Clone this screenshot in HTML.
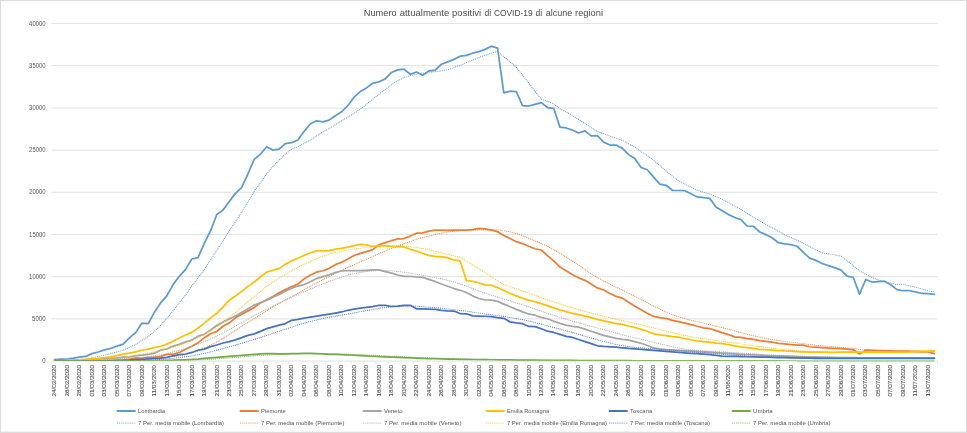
<!DOCTYPE html><html><head><meta charset="utf-8"><title>chart</title><style>html,body{margin:0;padding:0;background:#fff}body{width:967px;height:433px;overflow:hidden}svg{display:block}text{font-family:"Liberation Sans",sans-serif}</style></head><body>
<svg width="967" height="433" viewBox="0 0 967 433">
<rect x="0" y="0" width="967" height="433" fill="#fff"/>
<rect x="0.5" y="0.5" width="966" height="432" fill="none" stroke="#dcdcdc" stroke-width="1"/><rect x="0" y="431.7" width="967" height="1.3" fill="#dcdcdc"/>
<line x1="51.4" x2="937.5" y1="361.10" y2="361.10" stroke="#dedede" stroke-width="0.9"/>
<line x1="51.4" x2="937.5" y1="318.89" y2="318.89" stroke="#dedede" stroke-width="0.9"/>
<line x1="51.4" x2="937.5" y1="276.69" y2="276.69" stroke="#dedede" stroke-width="0.9"/>
<line x1="51.4" x2="937.5" y1="234.48" y2="234.48" stroke="#dedede" stroke-width="0.9"/>
<line x1="51.4" x2="937.5" y1="192.28" y2="192.28" stroke="#dedede" stroke-width="0.9"/>
<line x1="51.4" x2="937.5" y1="150.17" y2="150.17" stroke="#dedede" stroke-width="0.9"/>
<line x1="51.4" x2="937.5" y1="108.11" y2="108.11" stroke="#dedede" stroke-width="0.9"/>
<line x1="51.4" x2="937.5" y1="65.66" y2="65.66" stroke="#dedede" stroke-width="0.9"/>
<line x1="51.4" x2="937.5" y1="23.45" y2="23.45" stroke="#dedede" stroke-width="0.9"/>
<path d="M51.40 361.10v3M63.88 361.10v3M76.36 361.10v3M88.84 361.10v3M101.32 361.10v3M113.80 361.10v3M126.28 361.10v3M138.76 361.10v3M151.24 361.10v3M163.72 361.10v3M176.20 361.10v3M188.68 361.10v3M201.16 361.10v3M213.64 361.10v3M226.12 361.10v3M238.60 361.10v3M251.08 361.10v3M263.56 361.10v3M276.05 361.10v3M288.53 361.10v3M301.01 361.10v3M313.49 361.10v3M325.97 361.10v3M338.45 361.10v3M350.93 361.10v3M363.41 361.10v3M375.89 361.10v3M388.37 361.10v3M400.85 361.10v3M413.33 361.10v3M425.81 361.10v3M438.29 361.10v3M450.77 361.10v3M463.25 361.10v3M475.73 361.10v3M488.21 361.10v3M500.69 361.10v3M513.17 361.10v3M525.65 361.10v3M538.13 361.10v3M550.61 361.10v3M563.09 361.10v3M575.57 361.10v3M588.05 361.10v3M600.53 361.10v3M613.01 361.10v3M625.49 361.10v3M637.97 361.10v3M650.45 361.10v3M662.93 361.10v3M675.41 361.10v3M687.89 361.10v3M700.37 361.10v3M712.85 361.10v3M725.34 361.10v3M737.82 361.10v3M750.30 361.10v3M762.78 361.10v3M775.26 361.10v3M787.74 361.10v3M800.22 361.10v3M812.70 361.10v3M825.18 361.10v3M837.66 361.10v3M850.14 361.10v3M862.62 361.10v3M875.10 361.10v3M887.58 361.10v3M900.06 361.10v3M912.54 361.10v3M925.02 361.10v3M937.50 361.10v3" stroke="#dedede" stroke-width="0.7" fill="none"/>
<clipPath id="pc"><rect x="0" y="0" width="967" height="360.70"/></clipPath><g clip-path="url(#pc)">
<polyline points="54.52,359.70 60.76,359.15 67.00,359.00 73.24,358.15 79.48,357.10 85.72,356.44 91.96,353.61 98.20,352.01 104.44,349.91 110.68,348.46 116.92,346.10 123.16,344.15 129.40,337.95 135.64,332.64 141.88,323.20 148.12,323.73 154.36,312.45 160.60,302.89 166.84,295.83 173.08,284.63 179.32,276.32 185.56,269.42 191.80,259.00 198.04,257.56 204.28,243.45 210.52,230.94 216.76,214.48 223.00,210.13 229.24,201.48 235.48,193.39 241.72,187.29 247.96,173.80 254.20,159.40 260.44,154.21 266.68,146.76 272.93,150.02 279.17,149.02 285.41,143.61 291.65,142.67 297.89,140.03 304.13,131.33 310.37,123.70 316.61,120.79 322.85,121.85 329.09,120.14 335.33,115.68 341.57,111.83 347.81,105.68 354.05,97.18 360.29,91.53 366.53,87.92 372.77,83.21 379.01,81.78 385.25,78.88 391.49,72.45 397.73,69.90 403.97,69.14 410.21,74.28 416.45,72.05 422.69,75.17 428.93,70.99 435.17,70.10 441.41,64.26 447.65,61.93 453.89,59.38 460.13,56.19 466.37,55.43 472.61,53.22 478.85,51.58 485.09,49.40 491.33,46.18 497.57,48.18 503.81,92.92 510.05,91.23 516.29,91.66 522.53,105.58 528.77,106.01 535.01,104.32 541.25,102.63 547.49,107.52 553.73,108.45 559.97,127.15 566.21,127.99 572.45,130.06 578.69,132.98 584.93,130.91 591.17,135.89 597.41,135.72 603.65,142.13 609.89,145.00 616.13,145.00 622.37,148.38 628.61,154.63 634.85,158.59 641.09,167.54 647.33,169.74 653.57,177.17 659.81,184.04 666.05,185.27 672.29,190.28 678.53,190.50 684.77,190.67 691.01,193.79 697.25,196.92 703.49,197.55 709.73,198.39 715.98,206.91 722.22,210.85 728.46,214.60 734.70,217.51 740.94,219.62 747.18,226.04 753.42,226.25 759.66,231.95 765.90,234.61 772.14,237.72 778.38,242.72 784.62,243.96 790.86,244.61 797.10,246.25 803.34,252.29 809.58,258.12 815.82,260.40 822.06,263.52 828.30,265.59 834.54,267.66 840.78,269.93 847.02,276.18 853.26,277.24 859.50,294.08 865.74,279.52 871.98,282.01 878.22,281.58 884.46,281.16 890.70,284.71 896.94,289.69 903.18,290.74 909.42,290.74 915.66,291.97 921.90,293.49 928.14,293.65 934.38,294.29" fill="none" stroke="#5B9BD5" stroke-width="1.75" stroke-linejoin="round" stroke-linecap="round"/>
<polyline points="91.96,357.59 98.20,356.49 104.44,355.17 110.68,353.67 116.92,351.95 123.16,350.10 129.40,347.46 135.64,344.46 141.88,340.34 148.12,336.60 154.36,331.46 160.60,325.29 166.84,318.38 173.08,310.77 179.32,302.72 185.56,295.04 191.80,285.79 198.04,277.95 204.28,269.46 210.52,260.19 216.76,250.17 223.00,240.71 229.24,231.00 235.48,221.63 241.72,211.59 247.96,201.64 254.20,191.42 260.44,182.81 266.68,173.76 272.93,166.41 279.17,160.07 285.41,153.83 291.65,149.39 297.89,146.62 304.13,143.35 310.37,140.06 316.61,135.88 322.85,132.00 329.09,128.64 335.33,124.79 341.57,120.76 347.81,117.10 354.05,113.31 360.29,109.13 366.53,104.28 372.77,99.00 379.01,94.16 385.25,89.45 391.49,84.71 397.73,80.81 403.97,77.61 410.21,75.66 416.45,74.07 422.69,73.13 428.93,72.00 435.17,71.66 441.41,70.86 447.65,69.83 453.89,67.70 460.13,65.43 466.37,62.61 472.61,60.07 478.85,57.43 485.09,55.30 491.33,53.05 497.57,51.46 503.81,56.70 510.05,61.82 516.29,67.31 522.53,75.02 528.77,83.11 535.01,91.41 541.25,99.19 547.49,101.28 553.73,103.74 559.97,108.81 566.21,112.01 572.45,115.45 578.69,119.54 584.93,123.58 591.17,127.63 597.41,131.53 603.65,133.67 609.89,136.10 616.13,138.23 622.37,140.43 628.61,143.82 634.85,147.07 641.09,151.61 647.33,155.56 653.57,160.15 659.81,165.73 666.05,171.00 672.29,176.09 678.53,180.65 684.77,183.95 691.01,187.39 697.25,190.21 703.49,192.14 709.73,194.02 715.98,196.39 722.22,199.30 728.46,202.72 734.70,206.10 740.94,209.35 747.18,213.42 753.42,217.40 759.66,220.98 765.90,224.37 772.14,227.67 778.38,231.27 784.62,234.75 790.86,237.40 797.10,240.26 803.34,243.17 809.58,246.52 815.82,249.76 822.06,252.73 828.30,253.90 834.54,254.82 840.78,256.09 847.02,260.65 853.26,265.71 859.50,270.86 865.74,274.24 871.98,277.44 878.22,280.08 884.46,281.68 890.70,282.90 896.94,284.68 903.18,284.20 909.42,285.80 915.66,287.23 921.90,288.93 928.14,290.71 934.38,292.08" fill="none" stroke="#5B9BD5" stroke-width="1.1" stroke-dasharray="0.01 1.92" stroke-linecap="round"/>
<polyline points="54.52,361.07 60.76,361.07 67.00,361.07 73.24,361.08 79.48,361.01 85.72,361.01 91.96,360.69 98.20,360.67 104.44,360.63 110.68,360.41 116.92,360.21 123.16,359.93 129.40,359.39 135.64,358.10 141.88,358.26 148.12,357.42 154.36,357.05 160.60,356.42 166.84,354.40 173.08,354.23 179.32,352.41 185.56,349.24 191.80,346.21 198.04,342.64 204.28,337.85 210.52,333.72 216.76,331.50 223.00,326.26 229.24,322.87 235.48,317.85 241.72,314.20 247.96,310.87 254.20,307.52 260.44,302.75 266.68,299.75 272.93,296.48 279.17,292.88 285.41,289.60 291.65,286.83 297.89,284.03 304.13,278.87 310.37,275.19 316.61,272.09 322.85,270.74 329.09,268.34 335.33,264.67 341.57,262.26 347.81,258.92 354.05,255.54 360.29,253.35 366.53,251.67 372.77,249.57 379.01,244.75 385.25,242.70 391.49,240.71 397.73,238.96 403.97,238.51 410.21,236.08 416.45,233.20 422.69,232.87 428.93,231.18 435.17,230.24 441.41,230.19 447.65,230.32 453.89,230.08 460.13,230.10 466.37,230.24 472.61,229.58 478.85,228.34 485.09,228.92 491.33,230.07 497.57,231.70 503.81,235.45 510.05,238.58 516.29,241.70 522.53,243.56 528.77,246.30 535.01,248.75 541.25,250.01 547.49,255.63 553.73,260.82 559.97,267.06 566.21,270.78 572.45,274.75 578.69,277.83 584.93,280.32 591.17,284.07 597.41,287.91 603.65,290.02 609.89,293.44 616.13,296.44 622.37,298.13 628.61,302.26 634.85,306.27 641.09,309.69 647.33,313.24 653.57,316.46 659.81,317.71 666.05,318.34 672.29,320.41 678.53,321.66 684.77,323.11 691.01,324.57 697.25,326.24 703.49,327.90 709.73,328.52 715.98,330.60 722.22,332.68 728.46,334.55 734.70,336.84 740.94,337.46 747.18,338.71 753.42,339.33 759.66,340.58 765.90,341.42 772.14,342.24 778.38,343.28 784.62,343.91 790.86,344.53 797.10,345.15 803.34,345.23 809.58,346.75 815.82,347.17 822.06,347.59 828.30,348.02 834.54,348.35 840.78,348.69 847.02,349.20 853.26,349.84 859.50,353.92 865.74,350.17 871.98,350.38 878.22,350.63 884.46,350.73 890.70,350.84 896.94,351.01 903.18,351.16 909.42,351.39 915.66,351.65 921.90,351.81 928.14,351.99 934.38,353.63" fill="none" stroke="#ED7D31" stroke-width="1.75" stroke-linejoin="round" stroke-linecap="round"/>
<polyline points="91.96,361.00 98.20,360.94 104.44,360.88 110.68,360.78 116.92,360.66 123.16,360.50 129.40,360.27 135.64,359.90 141.88,359.56 148.12,359.10 154.36,358.62 160.60,358.08 166.84,357.29 173.08,356.55 179.32,355.74 185.56,354.45 191.80,352.85 198.04,350.79 204.28,348.14 210.52,345.18 216.76,341.94 223.00,338.20 229.24,334.44 235.48,330.38 241.72,326.32 247.96,322.47 254.20,318.73 260.44,314.62 266.68,310.83 272.93,307.06 279.17,303.49 285.41,299.98 291.65,296.54 297.89,293.19 304.13,289.78 310.37,286.27 316.61,282.78 322.85,279.62 329.09,276.58 335.33,273.42 341.57,270.31 347.81,267.46 354.05,264.65 360.29,261.97 366.53,259.25 372.77,256.57 379.01,253.72 385.25,250.93 391.49,248.33 397.73,245.96 403.97,243.84 410.21,241.61 416.45,239.27 422.69,237.57 428.93,235.93 435.17,234.43 441.41,233.18 447.65,232.01 453.89,231.16 460.13,230.71 466.37,230.34 472.61,230.11 478.85,229.84 485.09,229.65 491.33,229.62 497.57,229.85 503.81,230.61 510.05,231.80 516.29,233.53 522.53,235.71 528.77,238.19 535.01,240.86 541.25,243.48 547.49,246.36 553.73,249.54 559.97,253.16 566.21,257.05 572.45,261.11 578.69,265.27 584.93,269.60 591.17,273.66 597.41,277.53 603.65,280.81 609.89,284.05 616.13,287.15 622.37,290.05 628.61,293.18 634.85,296.36 641.09,299.47 647.33,302.78 653.57,306.07 659.81,309.11 666.05,312.00 672.29,314.59 678.53,316.79 684.77,318.71 691.01,320.33 697.25,321.72 703.49,323.18 709.73,324.63 715.98,326.09 722.22,327.66 728.46,329.29 734.70,331.05 740.94,332.65 747.18,334.20 753.42,335.74 759.66,337.17 765.90,338.41 772.14,339.51 778.38,340.43 784.62,341.35 790.86,342.18 797.10,343.02 803.34,343.68 809.58,344.44 815.82,345.15 822.06,345.76 828.30,346.35 834.54,346.90 840.78,347.40 847.02,347.97 853.26,348.41 859.50,349.37 865.74,349.74 871.98,350.08 878.22,350.40 884.46,350.70 890.70,350.93 896.94,351.10 903.18,350.70 909.42,350.88 915.66,351.06 921.90,351.23 928.14,351.41 934.38,351.81" fill="none" stroke="#ED7D31" stroke-width="1.1" stroke-dasharray="0.01 1.92" stroke-linecap="round"/>
<polyline points="54.52,360.83 60.76,360.75 67.00,360.52 73.24,360.18 79.48,359.84 85.72,359.50 91.96,358.90 98.20,358.81 104.44,358.59 110.68,358.19 116.92,357.89 123.16,357.20 129.40,356.84 135.64,355.84 141.88,355.24 148.12,354.49 154.36,353.17 160.60,350.15 166.84,348.83 173.08,346.12 179.32,344.31 185.56,341.90 191.80,340.10 198.04,336.17 204.28,334.35 210.52,330.06 216.76,325.53 223.00,321.90 229.24,319.01 235.48,315.93 241.72,312.61 247.96,308.87 254.20,304.88 260.44,303.02 266.68,300.15 272.93,297.28 279.17,294.53 285.41,291.16 291.65,288.29 297.89,286.05 304.13,284.55 310.37,281.68 316.61,278.56 322.85,276.69 329.09,274.81 335.33,272.69 341.57,270.95 347.81,270.53 354.05,270.61 360.29,270.69 366.53,270.31 372.77,269.82 379.01,269.82 385.25,271.54 391.49,273.14 397.73,275.00 403.97,276.27 410.21,276.32 416.45,276.94 422.69,277.31 428.93,279.43 435.17,281.55 441.41,284.05 447.65,286.29 453.89,288.54 460.13,290.29 466.37,292.53 472.61,295.85 478.85,298.51 485.09,299.77 491.33,300.20 497.57,301.42 503.81,304.12 510.05,306.70 516.29,309.40 522.53,311.89 528.77,313.97 535.01,315.21 541.25,317.30 547.49,318.75 553.73,321.25 559.97,323.33 566.21,325.20 572.45,326.44 578.69,327.06 584.93,329.15 591.17,331.22 597.41,333.30 603.65,335.38 609.89,336.84 616.13,338.29 622.37,339.33 628.61,340.17 634.85,341.62 641.09,343.28 647.33,345.48 653.57,347.86 659.81,348.89 666.05,349.52 672.29,349.93 678.53,350.35 684.77,350.68 691.01,350.97 697.25,351.39 703.49,351.81 709.73,352.24 715.98,352.64 722.22,353.08 728.46,353.47 734.70,353.88 740.94,354.30 747.18,354.62 753.42,354.93 759.66,355.24 765.90,355.55 772.14,355.77 778.38,355.97 784.62,356.18 790.86,356.38 797.10,356.58 803.34,356.88 809.58,357.05 815.82,357.22 822.06,357.32 828.30,357.42 834.54,357.51 840.78,357.60 847.02,357.68 853.26,357.72 859.50,357.77 865.74,357.81 871.98,357.81 878.22,357.81 884.46,357.81 890.70,357.81 896.94,357.81 903.18,357.81 909.42,357.81 915.66,357.81 921.90,357.81 928.14,357.81 934.38,357.81" fill="none" stroke="#A5A5A5" stroke-width="1.75" stroke-linejoin="round" stroke-linecap="round"/>
<polyline points="91.96,360.07 98.20,359.79 104.44,359.48 110.68,359.15 116.92,358.82 123.16,358.44 129.40,358.06 135.64,357.62 141.88,357.11 148.12,356.53 154.36,355.81 160.60,354.70 166.84,353.51 173.08,351.98 179.32,350.33 185.56,348.42 191.80,346.37 198.04,343.94 204.28,341.68 210.52,339.00 216.76,336.06 223.00,332.86 229.24,329.59 235.48,326.14 241.72,322.77 247.96,319.13 254.20,315.53 260.44,312.32 266.68,309.21 272.93,306.10 279.17,303.05 285.41,299.98 291.65,297.04 297.89,294.35 304.13,291.72 310.37,289.08 316.61,286.40 322.85,283.85 329.09,281.52 335.33,279.29 341.57,277.13 347.81,275.13 354.05,273.55 360.29,272.42 366.53,271.51 372.77,270.80 379.01,270.39 385.25,270.48 391.49,270.85 397.73,271.48 403.97,272.27 410.21,273.13 416.45,274.15 422.69,275.22 428.93,276.34 435.17,277.54 441.41,278.84 447.65,280.27 453.89,282.02 460.13,283.92 466.37,286.10 472.61,288.44 478.85,290.87 485.09,293.11 491.33,295.10 497.57,296.94 503.81,298.91 510.05,300.94 516.29,302.87 522.53,304.78 528.77,306.81 535.01,308.96 541.25,311.23 547.49,313.32 553.73,315.40 559.97,317.39 566.21,319.29 572.45,321.07 578.69,322.76 584.93,324.45 591.17,326.24 597.41,327.96 603.65,329.68 609.89,331.34 616.13,333.04 622.37,334.79 628.61,336.36 634.85,337.85 641.09,339.27 647.33,340.72 653.57,342.29 659.81,343.80 666.05,345.26 672.29,346.65 678.53,347.90 684.77,348.96 691.01,349.74 697.25,350.25 703.49,350.67 709.73,351.05 715.98,351.44 722.22,351.83 728.46,352.23 734.70,352.65 740.94,353.06 747.18,353.46 753.42,353.85 759.66,354.22 765.90,354.57 772.14,354.90 778.38,355.20 784.62,355.46 790.86,355.72 797.10,355.95 803.34,356.19 809.58,356.40 815.82,356.61 822.06,356.80 828.30,356.98 834.54,357.14 840.78,357.28 847.02,357.40 853.26,357.50 859.50,357.57 865.74,357.64 871.98,357.70 878.22,357.74 884.46,357.77 890.70,357.79 896.94,357.80 903.18,357.81 909.42,357.81 915.66,357.81 921.90,357.81 928.14,357.81 934.38,357.81" fill="none" stroke="#A5A5A5" stroke-width="1.1" stroke-dasharray="0.01 1.92" stroke-linecap="round"/>
<polyline points="54.52,360.95 60.76,360.88 67.00,360.70 73.24,360.28 79.48,359.88 85.72,359.30 91.96,358.76 98.20,358.37 104.44,357.74 110.68,356.74 116.92,355.55 123.16,354.21 129.40,353.19 135.64,351.84 141.88,350.24 148.12,349.14 154.36,347.70 160.60,346.26 166.84,344.12 173.08,341.27 179.32,337.96 185.56,335.03 191.80,332.37 198.04,328.05 204.28,323.06 210.52,318.14 216.76,313.31 223.00,307.16 229.24,300.15 235.48,296.01 241.72,291.41 247.96,286.39 254.20,282.07 260.44,276.99 266.68,272.17 272.93,270.22 279.17,268.64 285.41,264.12 291.65,261.00 297.89,258.30 304.13,255.39 310.37,252.74 316.61,250.96 322.85,250.96 329.09,250.65 335.33,249.19 341.57,248.41 347.81,247.19 354.05,245.69 360.29,244.46 366.53,244.80 372.77,246.49 379.01,245.77 385.25,245.88 391.49,246.43 397.73,246.70 403.97,246.96 410.21,249.30 416.45,251.03 422.69,253.22 428.93,255.42 435.17,256.56 441.41,256.72 447.65,257.91 453.89,259.81 460.13,261.07 466.37,280.38 472.61,281.37 478.85,283.02 485.09,284.92 491.33,285.21 497.57,287.66 503.81,290.53 510.05,293.44 516.29,295.85 522.53,298.30 528.77,300.20 535.01,301.76 541.25,303.70 547.49,305.56 553.73,307.94 559.97,310.02 566.21,311.68 572.45,313.35 578.69,314.59 584.93,316.05 591.17,317.71 597.41,319.37 603.65,320.84 609.89,322.08 616.13,323.54 622.37,324.36 628.61,326.24 634.85,327.48 641.09,329.36 647.33,331.22 653.57,333.72 659.81,334.97 666.05,335.59 672.29,336.63 678.53,337.04 684.77,338.50 691.01,339.74 697.25,340.79 703.49,341.62 709.73,342.24 715.98,343.08 722.22,343.69 728.46,344.53 734.70,345.78 740.94,346.82 747.18,347.64 753.42,348.48 759.66,349.31 765.90,349.73 772.14,350.14 778.38,350.56 784.62,350.97 790.86,351.18 797.10,351.60 803.34,351.81 809.58,352.02 815.82,352.22 822.06,352.22 828.30,352.32 834.54,352.32 840.78,352.03 847.02,352.03 853.26,352.03 859.50,352.03 865.74,352.03 871.98,352.03 878.22,352.03 884.46,352.03 890.70,352.03 896.94,352.03 903.18,352.03 909.42,351.81 915.66,351.39 921.90,351.10 928.14,351.01 934.38,350.97" fill="none" stroke="#FFC000" stroke-width="1.75" stroke-linejoin="round" stroke-linecap="round"/>
<polyline points="91.96,360.11 98.20,359.74 104.44,359.29 110.68,358.72 116.92,358.05 123.16,357.24 129.40,356.37 135.64,355.38 141.88,354.22 148.12,352.99 154.36,351.70 160.60,350.37 166.84,348.93 173.08,347.22 179.32,345.24 185.56,343.07 191.80,340.67 198.04,337.87 204.28,334.55 210.52,330.84 216.76,326.85 223.00,322.45 229.24,317.46 235.48,312.27 241.72,307.04 247.96,301.80 254.20,296.65 260.44,291.46 266.68,286.46 272.93,282.18 279.17,278.27 285.41,274.37 291.65,270.74 297.89,267.35 304.13,264.26 310.37,261.49 316.61,258.74 322.85,256.21 329.09,254.29 335.33,252.60 341.57,251.19 347.81,250.01 354.05,249.01 360.29,248.08 366.53,247.20 372.77,246.60 379.01,246.11 385.25,245.75 391.49,245.65 397.73,245.79 403.97,246.15 410.21,246.79 416.45,247.44 422.69,248.50 428.93,249.87 435.17,251.31 441.41,252.74 447.65,254.31 453.89,255.81 460.13,257.24 466.37,261.12 472.61,264.83 478.85,268.61 485.09,272.64 491.33,276.54 497.57,280.52 503.81,284.73 510.05,286.59 516.29,288.66 522.53,290.84 528.77,293.03 535.01,295.39 541.25,297.68 547.49,299.83 553.73,301.90 559.97,303.92 566.21,305.84 572.45,307.72 578.69,309.55 584.93,311.31 591.17,313.05 597.41,314.68 603.65,316.23 609.89,317.71 616.13,319.17 622.37,320.56 628.61,322.02 634.85,323.41 641.09,324.84 647.33,326.32 653.57,327.99 659.81,329.62 666.05,331.22 672.29,332.71 678.53,334.07 684.77,335.38 691.01,336.60 697.25,337.61 703.49,338.56 709.73,339.51 715.98,340.43 722.22,341.38 728.46,342.24 734.70,343.10 740.94,343.97 747.18,344.83 753.42,345.72 759.66,346.61 765.90,347.47 772.14,348.27 778.38,348.95 784.62,349.55 790.86,350.05 797.10,350.50 803.34,350.86 809.58,351.18 815.82,351.48 822.06,351.72 828.30,351.91 834.54,352.07 840.78,352.13 847.02,352.16 853.26,352.17 859.50,352.14 865.74,352.11 871.98,352.07 878.22,352.03 884.46,352.03 890.70,352.03 896.94,352.03 903.18,352.03 909.42,352.00 915.66,351.91 921.90,351.77 928.14,351.63 934.38,351.48" fill="none" stroke="#FFC000" stroke-width="1.1" stroke-dasharray="0.01 1.92" stroke-linecap="round"/>
<polyline points="54.52,361.10 60.76,361.08 67.00,361.08 73.24,361.08 79.48,361.04 85.72,361.02 91.96,361.00 98.20,361.00 104.44,360.95 110.68,360.79 116.92,360.59 123.16,360.44 129.40,360.15 135.64,359.71 141.88,359.36 148.12,358.91 154.36,358.45 160.60,358.13 166.84,357.26 173.08,355.92 179.32,354.66 185.56,354.00 191.80,352.46 198.04,350.20 204.28,349.10 210.52,346.64 216.76,345.02 223.00,343.00 229.24,341.68 235.48,339.84 241.72,337.67 247.96,335.35 254.20,333.87 260.44,331.40 266.68,328.66 272.93,326.79 279.17,325.17 285.41,323.54 291.65,320.33 297.89,319.31 304.13,318.13 310.37,317.21 316.61,316.19 322.85,315.18 329.09,314.17 335.33,313.07 341.57,311.97 347.81,310.28 354.05,309.02 360.29,308.13 366.53,307.33 372.77,306.61 379.01,305.26 385.25,305.39 391.49,306.49 397.73,306.11 403.97,305.39 410.21,305.35 416.45,308.85 422.69,308.89 428.93,309.14 435.17,309.44 441.41,310.37 447.65,310.96 453.89,311.06 460.13,313.55 466.37,313.76 472.61,315.84 478.85,316.05 485.09,316.25 491.33,316.67 497.57,317.71 503.81,318.34 510.05,321.87 516.29,322.91 522.53,323.74 528.77,326.44 535.01,326.65 541.25,328.73 547.49,331.22 553.73,332.47 559.97,334.34 566.21,336.42 572.45,337.46 578.69,339.54 584.93,341.62 591.17,343.69 597.41,345.78 603.65,346.40 609.89,346.82 616.13,347.23 622.37,347.86 628.61,348.48 634.85,348.89 641.09,349.28 647.33,349.87 653.57,350.35 659.81,350.89 666.05,351.39 672.29,351.90 678.53,352.43 684.77,352.83 691.01,353.26 697.25,353.67 703.49,354.09 709.73,354.68 715.98,355.34 722.22,356.12 728.46,356.29 734.70,356.46 740.94,356.59 747.18,356.75 753.42,356.90 759.66,357.07 765.90,357.22 772.14,357.37 778.38,357.52 784.62,357.68 790.86,357.83 797.10,357.93 803.34,358.04 809.58,358.15 815.82,358.26 822.06,358.31 828.30,358.38 834.54,358.46 840.78,358.31 847.02,358.31 853.26,358.31 859.50,358.31 865.74,358.31 871.98,358.31 878.22,358.31 884.46,358.31 890.70,358.31 896.94,358.31 903.18,358.31 909.42,358.31 915.66,358.31 921.90,358.31 928.14,358.31 934.38,358.31" fill="none" stroke="#4472C4" stroke-width="1.75" stroke-linejoin="round" stroke-linecap="round"/>
<polyline points="91.96,361.06 98.20,361.04 104.44,361.02 110.68,360.98 116.92,360.91 123.16,360.83 129.40,360.70 135.64,360.52 141.88,360.28 148.12,359.99 154.36,359.66 160.60,359.31 166.84,358.85 173.08,358.25 179.32,357.53 185.56,356.76 191.80,355.84 198.04,354.66 204.28,353.37 210.52,351.85 216.76,350.30 223.00,348.63 229.24,346.87 235.48,345.07 241.72,343.28 247.96,341.31 254.20,339.49 260.44,337.54 266.68,335.50 272.93,333.37 279.17,331.27 285.41,329.25 291.65,327.11 297.89,325.03 304.13,323.13 310.37,321.50 316.61,319.98 322.85,318.55 329.09,317.22 335.33,316.18 341.57,315.13 347.81,314.01 354.05,312.84 360.29,311.69 366.53,310.57 372.77,309.49 379.01,308.37 385.25,307.43 391.49,306.89 397.73,306.47 403.97,306.08 410.21,305.80 416.45,306.12 422.69,306.64 428.93,307.17 435.17,307.59 441.41,308.20 447.65,309.00 453.89,309.82 460.13,310.49 466.37,311.18 472.61,312.14 478.85,313.08 485.09,313.92 491.33,314.74 497.57,315.69 503.81,316.37 510.05,317.53 516.29,318.54 522.53,319.64 528.77,321.10 535.01,322.52 541.25,324.10 547.49,325.94 553.73,327.45 559.97,329.08 566.21,330.89 572.45,332.47 578.69,334.31 584.93,336.15 591.17,337.93 597.41,339.84 603.65,341.56 609.89,343.05 616.13,344.44 622.37,345.63 628.61,346.61 634.85,347.35 641.09,347.85 647.33,348.35 653.57,348.85 659.81,349.38 666.05,349.88 672.29,350.37 678.53,350.87 684.77,351.38 691.01,351.86 697.25,352.34 703.49,352.80 709.73,353.27 715.98,353.76 722.22,354.29 728.46,354.78 734.70,355.24 740.94,355.65 747.18,356.03 753.42,356.35 759.66,356.60 765.90,356.75 772.14,356.91 778.38,357.06 784.62,357.22 790.86,357.37 797.10,357.52 803.34,357.66 809.58,357.79 815.82,357.92 822.06,358.03 828.30,358.13 834.54,358.22 840.78,358.27 847.02,358.31 853.26,358.34 859.50,358.34 865.74,358.34 871.98,358.33 878.22,358.31 884.46,358.31 890.70,358.31 896.94,358.31 903.18,358.31 909.42,358.31 915.66,358.31 921.90,358.31 928.14,358.31 934.38,358.31" fill="none" stroke="#4472C4" stroke-width="1.1" stroke-dasharray="0.01 1.92" stroke-linecap="round"/>
<polyline points="54.52,361.10 60.76,361.10 67.00,361.09 73.24,361.09 79.48,361.09 85.72,361.09 91.96,361.08 98.20,361.07 104.44,361.05 110.68,361.04 116.92,361.02 123.16,360.98 129.40,360.93 135.64,360.88 141.88,360.80 148.12,360.73 154.36,360.61 160.60,360.48 166.84,360.35 173.08,360.21 179.32,359.93 185.56,359.76 191.80,359.48 198.04,359.06 204.28,358.35 210.52,357.86 216.76,357.33 223.00,356.88 229.24,356.41 235.48,355.83 241.72,355.39 247.96,354.84 254.20,354.33 260.44,353.88 266.68,353.53 272.93,353.52 279.17,353.92 285.41,353.94 291.65,353.74 297.89,353.54 304.13,353.29 310.37,353.40 316.61,353.63 322.85,353.91 329.09,354.30 335.33,354.47 341.57,354.63 347.81,354.94 354.05,355.25 360.29,355.61 366.53,355.97 372.77,356.25 379.01,356.54 385.25,356.82 391.49,357.09 397.73,357.41 403.97,357.72 410.21,357.98 416.45,358.23 422.69,358.40 428.93,358.57 435.17,358.72 441.41,358.86 447.65,359.01 453.89,359.16 460.13,359.29 466.37,359.41 472.61,359.50 478.85,359.58 485.09,359.66 491.33,359.75 497.57,359.82 503.81,359.90 510.05,359.97 516.29,360.04 522.53,360.10 528.77,360.15 535.01,360.20 541.25,360.26 547.49,360.30 553.73,360.34 559.97,360.38 566.21,360.42 572.45,360.47 578.69,360.51 584.93,360.55 591.17,360.59 597.41,360.62 603.65,360.64 609.89,360.67 616.13,360.69 622.37,360.72 628.61,360.74 634.85,360.76 641.09,360.78 647.33,360.80 653.57,360.82 659.81,360.83 666.05,360.84 672.29,360.85 678.53,360.86 684.77,360.86 691.01,360.87 697.25,360.88 703.49,360.90 709.73,360.91 715.98,360.92 722.22,360.93 728.46,360.94 734.70,360.94 740.94,360.95 747.18,360.95 753.42,360.96 759.66,360.96 765.90,360.97 772.14,360.98 778.38,360.99 784.62,361.00 790.86,361.00 797.10,361.00" fill="none" stroke="#70AD47" stroke-opacity="1" stroke-width="1.75" stroke-linejoin="round" stroke-linecap="butt"/>
<polyline points="91.96,361.09 98.20,361.09 104.44,361.08 110.68,361.07 116.92,361.06 123.16,361.05 129.40,361.02 135.64,361.00 141.88,360.96 148.12,360.91 154.36,360.85 160.60,360.77 166.84,360.68 173.08,360.58 179.32,360.44 185.56,360.30 191.80,360.12 198.04,359.90 204.28,359.59 210.52,359.23 216.76,358.82 223.00,358.39 229.24,357.91 235.48,357.39 241.72,356.86 247.96,356.36 254.20,355.86 260.44,355.37 266.68,354.89 272.93,354.47 279.17,354.20 285.41,353.99 291.65,353.84 297.89,353.72 304.13,353.64 310.37,353.62 316.61,353.64 322.85,353.64 329.09,353.69 335.33,353.79 341.57,353.95 347.81,354.18 354.05,354.45 360.29,354.73 366.53,355.02 372.77,355.30 379.01,355.60 385.25,355.91 391.49,356.22 397.73,356.53 403.97,356.83 410.21,357.12 416.45,357.40 422.69,357.66 428.93,357.91 435.17,358.15 441.41,358.35 447.65,358.54 453.89,358.71 460.13,358.86 466.37,359.00 472.61,359.13 478.85,359.26 485.09,359.37 491.33,359.48 497.57,359.57 503.81,359.66 510.05,359.74 516.29,359.82 522.53,359.89 528.77,359.96 535.01,360.03 541.25,360.09 547.49,360.15 553.73,360.20 559.97,360.25 566.21,360.29 572.45,360.34 578.69,360.38 584.93,360.42 591.17,360.47 597.41,360.51 603.65,360.54 609.89,360.58 616.13,360.61 622.37,360.64 628.61,360.67 634.85,360.69 641.09,360.72 647.33,360.74 653.57,360.76 659.81,360.78 666.05,360.80 672.29,360.81 678.53,360.82 684.77,360.84 691.01,360.85 697.25,360.86 703.49,360.87 709.73,360.87 715.98,360.89 722.22,360.90 728.46,360.91 734.70,360.92 740.94,360.93 747.18,360.93 753.42,360.94 759.66,360.95 765.90,360.95 772.14,360.96 778.38,360.97 784.62,360.97" fill="none" stroke="#70AD47" stroke-width="1.1" stroke-dasharray="0.01 1.92" stroke-linecap="round"/>
</g>
<polyline points="797.10,360.90 803.34,360.90 809.58,360.90 815.82,360.90 822.06,360.90 828.30,360.90 834.54,360.91 840.78,360.91 847.02,360.91 853.26,360.91 859.50,360.90 865.74,360.90 871.98,360.90 878.22,360.90 884.46,360.89 890.70,360.89 896.94,360.88 903.18,360.88 909.42,360.87 915.66,360.87 921.90,360.87 928.14,360.87 934.38,360.87" fill="none" stroke="#b3d6a1" stroke-width="1.75" stroke-linecap="butt"/>
<line x1="117.5" x2="135.0" y1="411" y2="411" stroke="#5B9BD5" stroke-width="1.9" stroke-linecap="round"/>
<line x1="117.4" x2="135.1" y1="423.05" y2="423.05" stroke="#5B9BD5" stroke-width="1.1" stroke-dasharray="0.01 1.92" stroke-linecap="round"/>
<line x1="240.5" x2="258.0" y1="411" y2="411" stroke="#ED7D31" stroke-width="1.9" stroke-linecap="round"/>
<line x1="240.4" x2="258.1" y1="423.05" y2="423.05" stroke="#ED7D31" stroke-width="1.1" stroke-dasharray="0.01 1.92" stroke-linecap="round"/>
<line x1="363.5" x2="381.0" y1="411" y2="411" stroke="#A5A5A5" stroke-width="1.9" stroke-linecap="round"/>
<line x1="363.4" x2="381.1" y1="423.05" y2="423.05" stroke="#A5A5A5" stroke-width="1.1" stroke-dasharray="0.01 1.92" stroke-linecap="round"/>
<line x1="486.5" x2="504.0" y1="411" y2="411" stroke="#FFC000" stroke-width="1.9" stroke-linecap="round"/>
<line x1="486.4" x2="504.1" y1="423.05" y2="423.05" stroke="#FFC000" stroke-width="1.1" stroke-dasharray="0.01 1.92" stroke-linecap="round"/>
<line x1="609.5" x2="627.0" y1="411" y2="411" stroke="#4472C4" stroke-width="1.9" stroke-linecap="round"/>
<line x1="609.4" x2="627.1" y1="423.05" y2="423.05" stroke="#4472C4" stroke-width="1.1" stroke-dasharray="0.01 1.92" stroke-linecap="round"/>
<line x1="732.5" x2="750.0" y1="411" y2="411" stroke="#70AD47" stroke-width="1.9" stroke-linecap="round"/>
<line x1="732.4" x2="750.1" y1="423.05" y2="423.05" stroke="#70AD47" stroke-width="1.1" stroke-dasharray="0.01 1.92" stroke-linecap="round"/>
<g style="opacity:0.999">
<text x="45.6" y="363.15" font-size="6.4" fill="#575757" text-anchor="end" textLength="3.3" lengthAdjust="spacingAndGlyphs">0</text>
<text x="45.6" y="320.94" font-size="6.4" fill="#575757" text-anchor="end" textLength="13.5" lengthAdjust="spacingAndGlyphs">5000</text>
<text x="45.6" y="278.74" font-size="6.4" fill="#575757" text-anchor="end" textLength="16.5" lengthAdjust="spacingAndGlyphs">10000</text>
<text x="45.6" y="236.53" font-size="6.4" fill="#575757" text-anchor="end" textLength="16.5" lengthAdjust="spacingAndGlyphs">15000</text>
<text x="45.6" y="194.33" font-size="6.4" fill="#575757" text-anchor="end" textLength="16.5" lengthAdjust="spacingAndGlyphs">20000</text>
<text x="45.6" y="152.12" font-size="6.4" fill="#575757" text-anchor="end" textLength="16.5" lengthAdjust="spacingAndGlyphs">25000</text>
<text x="45.6" y="109.91" font-size="6.4" fill="#575757" text-anchor="end" textLength="16.5" lengthAdjust="spacingAndGlyphs">30000</text>
<text x="45.6" y="67.71" font-size="6.4" fill="#575757" text-anchor="end" textLength="16.5" lengthAdjust="spacingAndGlyphs">35000</text>
<text x="45.6" y="25.50" font-size="6.4" fill="#575757" text-anchor="end" textLength="16.5" lengthAdjust="spacingAndGlyphs">40000</text>
<text x="363.8" y="16.2" font-size="9.2" fill="#4a4a4a" textLength="32.8" lengthAdjust="spacingAndGlyphs">Numero</text>
<text x="399.7" y="16.2" font-size="9.2" fill="#4a4a4a" textLength="49.6" lengthAdjust="spacingAndGlyphs">attualmente</text>
<text x="452.1" y="16.2" font-size="9.2" fill="#4a4a4a" textLength="29.0" lengthAdjust="spacingAndGlyphs">positivi</text>
<text x="484.6" y="16.2" font-size="9.2" fill="#4a4a4a" textLength="6.6" lengthAdjust="spacingAndGlyphs">di</text>
<text x="493.9" y="16.2" font-size="9.2" fill="#4a4a4a" textLength="38.7" lengthAdjust="spacingAndGlyphs">COVID-19</text>
<text x="535.5" y="16.2" font-size="9.2" fill="#4a4a4a" textLength="6.6" lengthAdjust="spacingAndGlyphs">di</text>
<text x="545.8" y="16.2" font-size="9.2" fill="#4a4a4a" textLength="26.6" lengthAdjust="spacingAndGlyphs">alcune</text>
<text x="575.1" y="16.2" font-size="9.2" fill="#4a4a4a" textLength="27.9" lengthAdjust="spacingAndGlyphs">regioni</text>
<text transform="translate(56.27,396.6) rotate(-90)" font-size="6.2" fill="#575757" stroke="#575757" stroke-width="0.12" textLength="31.5" lengthAdjust="spacingAndGlyphs">24/02/2020</text>
<text transform="translate(68.75,396.6) rotate(-90)" font-size="6.2" fill="#575757" stroke="#575757" stroke-width="0.12" textLength="31.5" lengthAdjust="spacingAndGlyphs">26/02/2020</text>
<text transform="translate(81.23,396.6) rotate(-90)" font-size="6.2" fill="#575757" stroke="#575757" stroke-width="0.12" textLength="31.5" lengthAdjust="spacingAndGlyphs">28/02/2020</text>
<text transform="translate(93.71,396.6) rotate(-90)" font-size="6.2" fill="#575757" stroke="#575757" stroke-width="0.12" textLength="31.5" lengthAdjust="spacingAndGlyphs">01/03/2020</text>
<text transform="translate(106.19,396.6) rotate(-90)" font-size="6.2" fill="#575757" stroke="#575757" stroke-width="0.12" textLength="31.5" lengthAdjust="spacingAndGlyphs">03/03/2020</text>
<text transform="translate(118.67,396.6) rotate(-90)" font-size="6.2" fill="#575757" stroke="#575757" stroke-width="0.12" textLength="31.5" lengthAdjust="spacingAndGlyphs">05/03/2020</text>
<text transform="translate(131.15,396.6) rotate(-90)" font-size="6.2" fill="#575757" stroke="#575757" stroke-width="0.12" textLength="31.5" lengthAdjust="spacingAndGlyphs">07/03/2020</text>
<text transform="translate(143.63,396.6) rotate(-90)" font-size="6.2" fill="#575757" stroke="#575757" stroke-width="0.12" textLength="31.5" lengthAdjust="spacingAndGlyphs">09/03/2020</text>
<text transform="translate(156.11,396.6) rotate(-90)" font-size="6.2" fill="#575757" stroke="#575757" stroke-width="0.12" textLength="31.5" lengthAdjust="spacingAndGlyphs">11/03/2020</text>
<text transform="translate(168.59,396.6) rotate(-90)" font-size="6.2" fill="#575757" stroke="#575757" stroke-width="0.12" textLength="31.5" lengthAdjust="spacingAndGlyphs">13/03/2020</text>
<text transform="translate(181.07,396.6) rotate(-90)" font-size="6.2" fill="#575757" stroke="#575757" stroke-width="0.12" textLength="31.5" lengthAdjust="spacingAndGlyphs">15/03/2020</text>
<text transform="translate(193.55,396.6) rotate(-90)" font-size="6.2" fill="#575757" stroke="#575757" stroke-width="0.12" textLength="31.5" lengthAdjust="spacingAndGlyphs">17/03/2020</text>
<text transform="translate(206.03,396.6) rotate(-90)" font-size="6.2" fill="#575757" stroke="#575757" stroke-width="0.12" textLength="31.5" lengthAdjust="spacingAndGlyphs">19/03/2020</text>
<text transform="translate(218.51,396.6) rotate(-90)" font-size="6.2" fill="#575757" stroke="#575757" stroke-width="0.12" textLength="31.5" lengthAdjust="spacingAndGlyphs">21/03/2020</text>
<text transform="translate(230.99,396.6) rotate(-90)" font-size="6.2" fill="#575757" stroke="#575757" stroke-width="0.12" textLength="31.5" lengthAdjust="spacingAndGlyphs">23/03/2020</text>
<text transform="translate(243.47,396.6) rotate(-90)" font-size="6.2" fill="#575757" stroke="#575757" stroke-width="0.12" textLength="31.5" lengthAdjust="spacingAndGlyphs">25/03/2020</text>
<text transform="translate(255.95,396.6) rotate(-90)" font-size="6.2" fill="#575757" stroke="#575757" stroke-width="0.12" textLength="31.5" lengthAdjust="spacingAndGlyphs">27/03/2020</text>
<text transform="translate(268.43,396.6) rotate(-90)" font-size="6.2" fill="#575757" stroke="#575757" stroke-width="0.12" textLength="31.5" lengthAdjust="spacingAndGlyphs">29/03/2020</text>
<text transform="translate(280.92,396.6) rotate(-90)" font-size="6.2" fill="#575757" stroke="#575757" stroke-width="0.12" textLength="31.5" lengthAdjust="spacingAndGlyphs">31/03/2020</text>
<text transform="translate(293.40,396.6) rotate(-90)" font-size="6.2" fill="#575757" stroke="#575757" stroke-width="0.12" textLength="31.5" lengthAdjust="spacingAndGlyphs">02/04/2020</text>
<text transform="translate(305.88,396.6) rotate(-90)" font-size="6.2" fill="#575757" stroke="#575757" stroke-width="0.12" textLength="31.5" lengthAdjust="spacingAndGlyphs">04/04/2020</text>
<text transform="translate(318.36,396.6) rotate(-90)" font-size="6.2" fill="#575757" stroke="#575757" stroke-width="0.12" textLength="31.5" lengthAdjust="spacingAndGlyphs">06/04/2020</text>
<text transform="translate(330.84,396.6) rotate(-90)" font-size="6.2" fill="#575757" stroke="#575757" stroke-width="0.12" textLength="31.5" lengthAdjust="spacingAndGlyphs">08/04/2020</text>
<text transform="translate(343.32,396.6) rotate(-90)" font-size="6.2" fill="#575757" stroke="#575757" stroke-width="0.12" textLength="31.5" lengthAdjust="spacingAndGlyphs">10/04/2020</text>
<text transform="translate(355.80,396.6) rotate(-90)" font-size="6.2" fill="#575757" stroke="#575757" stroke-width="0.12" textLength="31.5" lengthAdjust="spacingAndGlyphs">12/04/2020</text>
<text transform="translate(368.28,396.6) rotate(-90)" font-size="6.2" fill="#575757" stroke="#575757" stroke-width="0.12" textLength="31.5" lengthAdjust="spacingAndGlyphs">14/04/2020</text>
<text transform="translate(380.76,396.6) rotate(-90)" font-size="6.2" fill="#575757" stroke="#575757" stroke-width="0.12" textLength="31.5" lengthAdjust="spacingAndGlyphs">16/04/2020</text>
<text transform="translate(393.24,396.6) rotate(-90)" font-size="6.2" fill="#575757" stroke="#575757" stroke-width="0.12" textLength="31.5" lengthAdjust="spacingAndGlyphs">18/04/2020</text>
<text transform="translate(405.72,396.6) rotate(-90)" font-size="6.2" fill="#575757" stroke="#575757" stroke-width="0.12" textLength="31.5" lengthAdjust="spacingAndGlyphs">20/04/2020</text>
<text transform="translate(418.20,396.6) rotate(-90)" font-size="6.2" fill="#575757" stroke="#575757" stroke-width="0.12" textLength="31.5" lengthAdjust="spacingAndGlyphs">22/04/2020</text>
<text transform="translate(430.68,396.6) rotate(-90)" font-size="6.2" fill="#575757" stroke="#575757" stroke-width="0.12" textLength="31.5" lengthAdjust="spacingAndGlyphs">24/04/2020</text>
<text transform="translate(443.16,396.6) rotate(-90)" font-size="6.2" fill="#575757" stroke="#575757" stroke-width="0.12" textLength="31.5" lengthAdjust="spacingAndGlyphs">26/04/2020</text>
<text transform="translate(455.64,396.6) rotate(-90)" font-size="6.2" fill="#575757" stroke="#575757" stroke-width="0.12" textLength="31.5" lengthAdjust="spacingAndGlyphs">28/04/2020</text>
<text transform="translate(468.12,396.6) rotate(-90)" font-size="6.2" fill="#575757" stroke="#575757" stroke-width="0.12" textLength="31.5" lengthAdjust="spacingAndGlyphs">30/04/2020</text>
<text transform="translate(480.60,396.6) rotate(-90)" font-size="6.2" fill="#575757" stroke="#575757" stroke-width="0.12" textLength="31.5" lengthAdjust="spacingAndGlyphs">02/05/2020</text>
<text transform="translate(493.08,396.6) rotate(-90)" font-size="6.2" fill="#575757" stroke="#575757" stroke-width="0.12" textLength="31.5" lengthAdjust="spacingAndGlyphs">04/05/2020</text>
<text transform="translate(505.56,396.6) rotate(-90)" font-size="6.2" fill="#575757" stroke="#575757" stroke-width="0.12" textLength="31.5" lengthAdjust="spacingAndGlyphs">06/05/2020</text>
<text transform="translate(518.04,396.6) rotate(-90)" font-size="6.2" fill="#575757" stroke="#575757" stroke-width="0.12" textLength="31.5" lengthAdjust="spacingAndGlyphs">08/05/2020</text>
<text transform="translate(530.52,396.6) rotate(-90)" font-size="6.2" fill="#575757" stroke="#575757" stroke-width="0.12" textLength="31.5" lengthAdjust="spacingAndGlyphs">10/05/2020</text>
<text transform="translate(543.00,396.6) rotate(-90)" font-size="6.2" fill="#575757" stroke="#575757" stroke-width="0.12" textLength="31.5" lengthAdjust="spacingAndGlyphs">12/05/2020</text>
<text transform="translate(555.48,396.6) rotate(-90)" font-size="6.2" fill="#575757" stroke="#575757" stroke-width="0.12" textLength="31.5" lengthAdjust="spacingAndGlyphs">14/05/2020</text>
<text transform="translate(567.96,396.6) rotate(-90)" font-size="6.2" fill="#575757" stroke="#575757" stroke-width="0.12" textLength="31.5" lengthAdjust="spacingAndGlyphs">16/05/2020</text>
<text transform="translate(580.44,396.6) rotate(-90)" font-size="6.2" fill="#575757" stroke="#575757" stroke-width="0.12" textLength="31.5" lengthAdjust="spacingAndGlyphs">18/05/2020</text>
<text transform="translate(592.92,396.6) rotate(-90)" font-size="6.2" fill="#575757" stroke="#575757" stroke-width="0.12" textLength="31.5" lengthAdjust="spacingAndGlyphs">20/05/2020</text>
<text transform="translate(605.40,396.6) rotate(-90)" font-size="6.2" fill="#575757" stroke="#575757" stroke-width="0.12" textLength="31.5" lengthAdjust="spacingAndGlyphs">22/05/2020</text>
<text transform="translate(617.88,396.6) rotate(-90)" font-size="6.2" fill="#575757" stroke="#575757" stroke-width="0.12" textLength="31.5" lengthAdjust="spacingAndGlyphs">24/05/2020</text>
<text transform="translate(630.36,396.6) rotate(-90)" font-size="6.2" fill="#575757" stroke="#575757" stroke-width="0.12" textLength="31.5" lengthAdjust="spacingAndGlyphs">26/05/2020</text>
<text transform="translate(642.84,396.6) rotate(-90)" font-size="6.2" fill="#575757" stroke="#575757" stroke-width="0.12" textLength="31.5" lengthAdjust="spacingAndGlyphs">28/05/2020</text>
<text transform="translate(655.32,396.6) rotate(-90)" font-size="6.2" fill="#575757" stroke="#575757" stroke-width="0.12" textLength="31.5" lengthAdjust="spacingAndGlyphs">30/05/2020</text>
<text transform="translate(667.80,396.6) rotate(-90)" font-size="6.2" fill="#575757" stroke="#575757" stroke-width="0.12" textLength="31.5" lengthAdjust="spacingAndGlyphs">01/06/2020</text>
<text transform="translate(680.28,396.6) rotate(-90)" font-size="6.2" fill="#575757" stroke="#575757" stroke-width="0.12" textLength="31.5" lengthAdjust="spacingAndGlyphs">03/06/2020</text>
<text transform="translate(692.76,396.6) rotate(-90)" font-size="6.2" fill="#575757" stroke="#575757" stroke-width="0.12" textLength="31.5" lengthAdjust="spacingAndGlyphs">05/06/2020</text>
<text transform="translate(705.24,396.6) rotate(-90)" font-size="6.2" fill="#575757" stroke="#575757" stroke-width="0.12" textLength="31.5" lengthAdjust="spacingAndGlyphs">07/06/2020</text>
<text transform="translate(717.73,396.6) rotate(-90)" font-size="6.2" fill="#575757" stroke="#575757" stroke-width="0.12" textLength="31.5" lengthAdjust="spacingAndGlyphs">09/06/2020</text>
<text transform="translate(730.21,396.6) rotate(-90)" font-size="6.2" fill="#575757" stroke="#575757" stroke-width="0.12" textLength="31.5" lengthAdjust="spacingAndGlyphs">11/06/2020</text>
<text transform="translate(742.69,396.6) rotate(-90)" font-size="6.2" fill="#575757" stroke="#575757" stroke-width="0.12" textLength="31.5" lengthAdjust="spacingAndGlyphs">13/06/2020</text>
<text transform="translate(755.17,396.6) rotate(-90)" font-size="6.2" fill="#575757" stroke="#575757" stroke-width="0.12" textLength="31.5" lengthAdjust="spacingAndGlyphs">15/06/2020</text>
<text transform="translate(767.65,396.6) rotate(-90)" font-size="6.2" fill="#575757" stroke="#575757" stroke-width="0.12" textLength="31.5" lengthAdjust="spacingAndGlyphs">17/06/2020</text>
<text transform="translate(780.13,396.6) rotate(-90)" font-size="6.2" fill="#575757" stroke="#575757" stroke-width="0.12" textLength="31.5" lengthAdjust="spacingAndGlyphs">19/06/2020</text>
<text transform="translate(792.61,396.6) rotate(-90)" font-size="6.2" fill="#575757" stroke="#575757" stroke-width="0.12" textLength="31.5" lengthAdjust="spacingAndGlyphs">21/06/2020</text>
<text transform="translate(805.09,396.6) rotate(-90)" font-size="6.2" fill="#575757" stroke="#575757" stroke-width="0.12" textLength="31.5" lengthAdjust="spacingAndGlyphs">23/06/2020</text>
<text transform="translate(817.57,396.6) rotate(-90)" font-size="6.2" fill="#575757" stroke="#575757" stroke-width="0.12" textLength="31.5" lengthAdjust="spacingAndGlyphs">25/06/2020</text>
<text transform="translate(830.05,396.6) rotate(-90)" font-size="6.2" fill="#575757" stroke="#575757" stroke-width="0.12" textLength="31.5" lengthAdjust="spacingAndGlyphs">27/06/2020</text>
<text transform="translate(842.53,396.6) rotate(-90)" font-size="6.2" fill="#575757" stroke="#575757" stroke-width="0.12" textLength="31.5" lengthAdjust="spacingAndGlyphs">29/06/2020</text>
<text transform="translate(855.01,396.6) rotate(-90)" font-size="6.2" fill="#575757" stroke="#575757" stroke-width="0.12" textLength="31.5" lengthAdjust="spacingAndGlyphs">01/07/2020</text>
<text transform="translate(867.49,396.6) rotate(-90)" font-size="6.2" fill="#575757" stroke="#575757" stroke-width="0.12" textLength="31.5" lengthAdjust="spacingAndGlyphs">03/07/2020</text>
<text transform="translate(879.97,396.6) rotate(-90)" font-size="6.2" fill="#575757" stroke="#575757" stroke-width="0.12" textLength="31.5" lengthAdjust="spacingAndGlyphs">05/07/2020</text>
<text transform="translate(892.45,396.6) rotate(-90)" font-size="6.2" fill="#575757" stroke="#575757" stroke-width="0.12" textLength="31.5" lengthAdjust="spacingAndGlyphs">07/07/2020</text>
<text transform="translate(904.93,396.6) rotate(-90)" font-size="6.2" fill="#575757" stroke="#575757" stroke-width="0.12" textLength="31.5" lengthAdjust="spacingAndGlyphs">09/07/2020</text>
<text transform="translate(917.41,396.6) rotate(-90)" font-size="6.2" fill="#575757" stroke="#575757" stroke-width="0.12" textLength="31.5" lengthAdjust="spacingAndGlyphs">11/07/2020</text>
<text transform="translate(929.89,396.6) rotate(-90)" font-size="6.2" fill="#575757" stroke="#575757" stroke-width="0.12" textLength="31.5" lengthAdjust="spacingAndGlyphs">13/07/2020</text>
<text x="138.0" y="412.9" font-size="5.9" fill="#575757" textLength="27.2" lengthAdjust="spacingAndGlyphs">Lombardia</text>
<text x="138.0" y="425.1" font-size="5.9" fill="#575757" textLength="86.0" lengthAdjust="spacingAndGlyphs">7 Per. media mobile (Lombardia)</text>
<text x="261.0" y="412.9" font-size="5.9" fill="#575757" textLength="24.8" lengthAdjust="spacingAndGlyphs">Piemonte</text>
<text x="261.0" y="425.1" font-size="5.9" fill="#575757" textLength="83.4" lengthAdjust="spacingAndGlyphs">7 Per. media mobile (Piemonte)</text>
<text x="384.0" y="412.9" font-size="5.9" fill="#575757" textLength="18.7" lengthAdjust="spacingAndGlyphs">Veneto</text>
<text x="384.0" y="425.1" font-size="5.9" fill="#575757" textLength="77.4" lengthAdjust="spacingAndGlyphs">7 Per. media mobile (Veneto)</text>
<text x="507.0" y="412.9" font-size="5.9" fill="#575757" textLength="42.1" lengthAdjust="spacingAndGlyphs">Emilia Romagna</text>
<text x="507.0" y="425.1" font-size="5.9" fill="#575757" textLength="100.0" lengthAdjust="spacingAndGlyphs">7 Per. media mobile (Emilia Romagna)</text>
<text x="630.0" y="412.9" font-size="5.9" fill="#575757" textLength="22.3" lengthAdjust="spacingAndGlyphs">Toscana</text>
<text x="630.0" y="425.1" font-size="5.9" fill="#575757" textLength="79.9" lengthAdjust="spacingAndGlyphs">7 Per. media mobile (Toscana)</text>
<text x="753.0" y="412.9" font-size="5.9" fill="#575757" textLength="19.7" lengthAdjust="spacingAndGlyphs">Umbria</text>
<text x="753.0" y="425.1" font-size="5.9" fill="#575757" textLength="77.6" lengthAdjust="spacingAndGlyphs">7 Per. media mobile (Umbria)</text>
</g>
</svg></body></html>
